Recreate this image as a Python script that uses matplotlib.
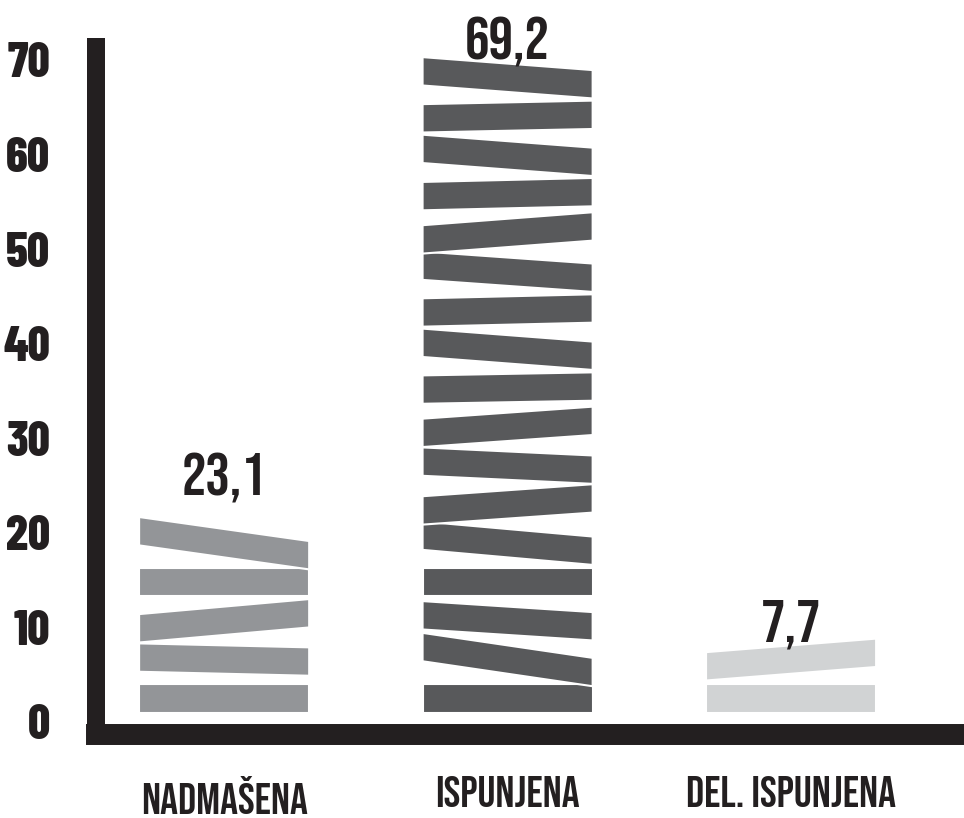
import matplotlib
matplotlib.use("Agg")
import matplotlib.pyplot as plt
from matplotlib.patches import Polygon

categories = ["NADMAŠENA", "ISPUNJENA", "DEL. ISPUNJENA"]
values = [23.1, 69.2, 7.7]
value_labels = ["23,1", "69,2", "7,7"]
y_ticks = [0, 10, 20, 30, 40, 50, 60, 70]

# look of the brick stacks (tilt = right edge minus left edge, in value units)
colors = ["#939598", "#58595b", "#d1d3d4"]
tilts = [
    [0, -0.42, 1.59, 0, -2.54],
    [0, -2.64, -1.16, 0, -1.59, 1.27, -0.85, 1.27, 0.32, -1.37, 0.42,
     -1.27, 1.37, 0.42, -1.37, 0.37, -1.37],
    [0, 1.43],
]
BRICK_STEP = 4.1   # value units per brick
BRICK_T = 3.0      # brick thickness
BASE = 1.0
BAR_W = 0.6
INK = "#231f20"
TALL_FONT = ["Bebas Neue", "Oswald", "League Gothic", "DejaVu Sans"]
TICK_FONT = ["Barlow Condensed", "Roboto Condensed", "Archivo Narrow", "DejaVu Sans"]

plt.rcParams["font.family"] = TALL_FONT

fig = plt.figure(figsize=(9.64, 8.18), dpi=100)
ax = fig.add_axes([0.0996, 0.1021, 0.9004, 0.8404])
ax.set_xlim(-0.452, 2.610)
ax.set_ylim(-1.32, 71.35)

for i, (val, col, tl) in enumerate(zip(values, colors, tilts)):
    n = int(round((val - BASE) / BRICK_STEP))
    x0, x1 = i - BAR_W / 2, i + BAR_W / 2
    for k in range(n):
        c = BASE + BRICK_T / 2 + k * BRICK_STEP
        d = tl[k % len(tl)]
        yl, yr = c - d / 2, c + d / 2
        poly = Polygon(
            [(x0, yl - BRICK_T / 2), (x1, yr - BRICK_T / 2),
             (x1, yr + BRICK_T / 2), (x0, yl + BRICK_T / 2)],
            closed=True, facecolor=col, edgecolor="white", linewidth=1.5,
            zorder=2 + k,
        )
        ax.add_patch(poly)
    ax.text(i, val + 0.8, value_labels[i], ha="center", va="baseline",
            fontsize=44, family=TALL_FONT, color=INK, zorder=50)

for side in ["top", "right"]:
    ax.spines[side].set_visible(False)
ax.spines["left"].set_linewidth(12.96)
ax.spines["bottom"].set_linewidth(15.1)
for side in ["left", "bottom"]:
    ax.spines[side].set_color(INK)
    ax.spines[side].set_capstyle("projecting")
    ax.spines[side].set_zorder(60)

ax.set_yticks(y_ticks)
ax.set_yticklabels([str(t) for t in y_ticks])
ax.set_xticks(range(len(categories)))
ax.set_xticklabels(categories)
ax.tick_params(axis="y", length=0, pad=33, labelsize=35, labelcolor=INK)
ax.tick_params(axis="x", length=0, pad=30, labelsize=32, labelcolor=INK)
for lab in ax.get_yticklabels():
    lab.set_family(TICK_FONT)
    lab.set_fontweight("heavy")

fig.savefig("out.png", dpi=100)
